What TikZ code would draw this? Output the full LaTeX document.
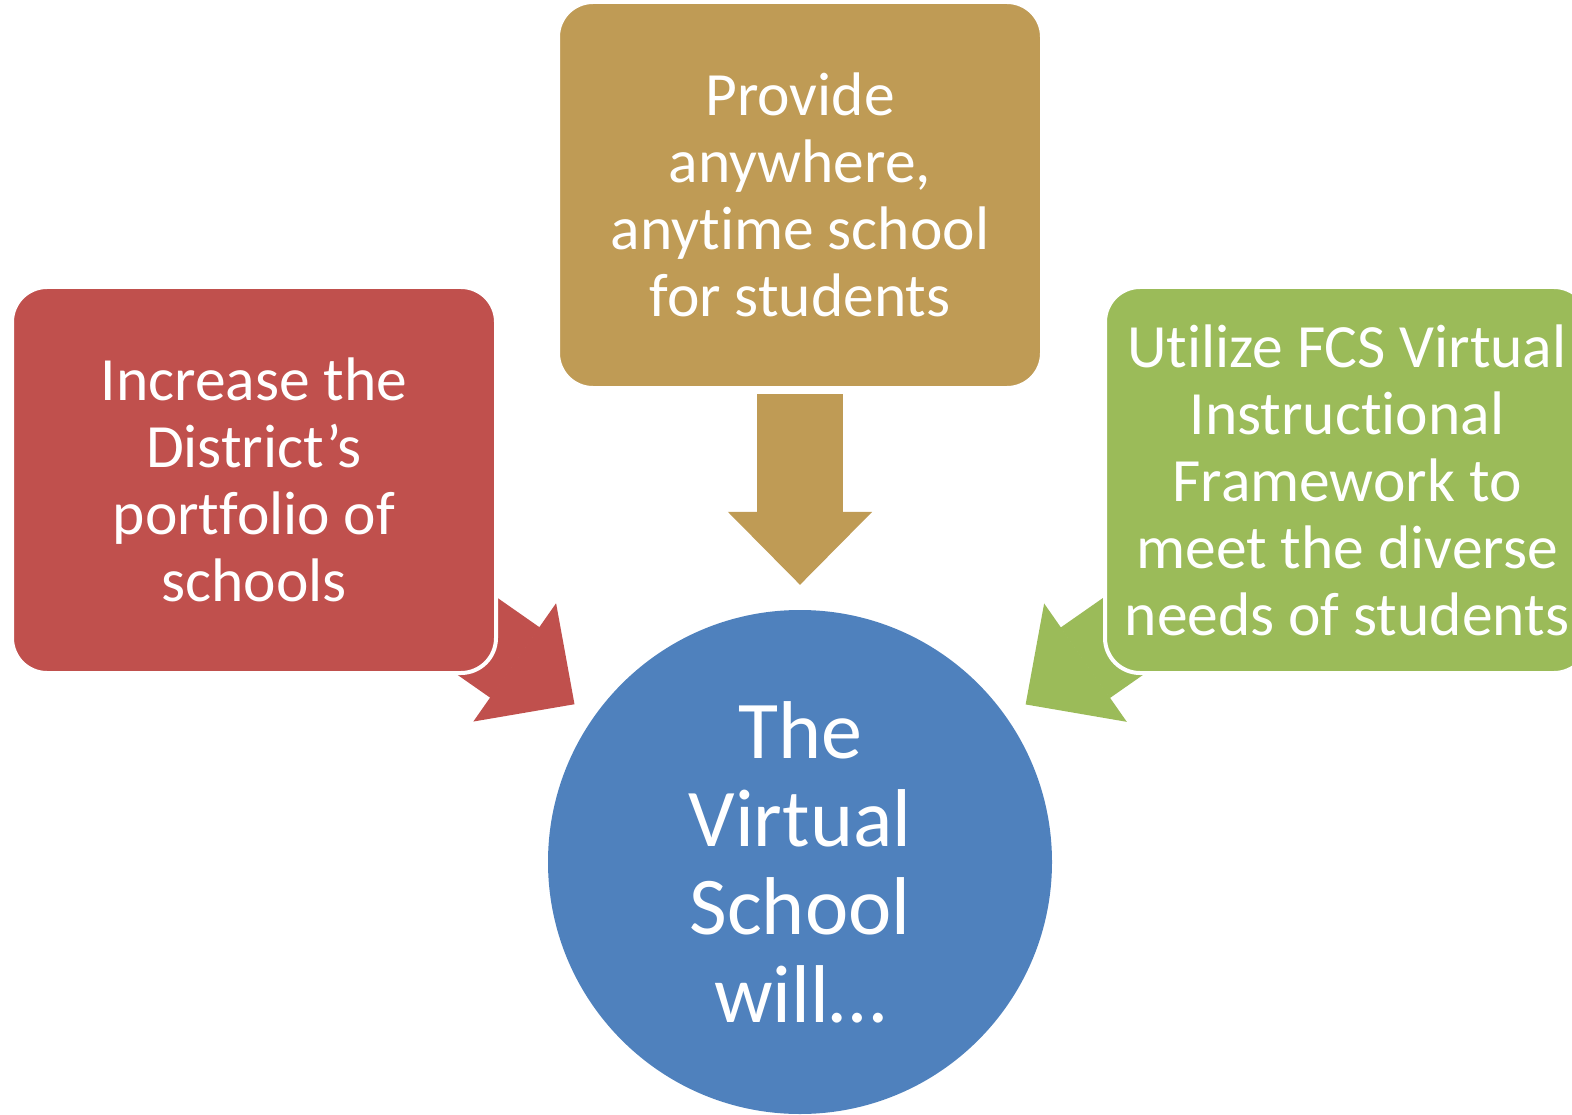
\documentclass[tikz,border=0pt]{standalone}
\usepackage{fontspec}
\setmainfont{Carlito}[Ligatures={NoCommon}]
\usetikzlibrary{arrows.meta}
\usetikzlibrary{backgrounds}
\definecolor{tanC}{HTML}{BF9B55}
\definecolor{redC}{HTML}{C0504D}
\definecolor{grnC}{HTML}{9BBB59}
\definecolor{bluC}{HTML}{4F81BD}
\tikzstyle{gbox}=[draw=white, line width=4pt, shape=rectangle, rounded corners=35pt, minimum width=484pt, minimum height=386pt, inner sep=0pt, align=center, text=white, font=\fontsize{61.5}{67}\selectfont]
\tikzstyle{vcirc}=[shape=circle, fill=bluC, minimum size=504pt, inner sep=0pt, align=center, text=white, font=\fontsize{82}{88}\selectfont]
\tikzstyle{barrow}=[line width=86pt, -{Triangle[length=73pt 0 0, width=144pt 0 0, line width=2pt 0 0]}]
\def\gbox{\node[style=gbox]}
\def\vcirc{\node[style=vcirc]}
\def\barrow{\draw[style=barrow]}

\begin{document}
\begin{tikzpicture}[x=1pt, y=-1pt]
      \useasboundingbox (0,0) rectangle (1572,1115);
      % goals
      \gbox (Tbox) [fill=tanC] at (800,195)  {Provide\\anywhere,\\anytime school\\for students};
      \gbox (Lbox) [fill=redC] at (254,480)  {Increase the\\District’s\\portfolio of\\schools};
      \gbox (Rbox) [fill=grnC] at (1347,480) {Utilize FCS Virtual\\Instructional\\Framework to\\meet the diverse\\needs of students};
      % centre
      \vcirc (Vnode) at (800,862) {The\\Virtual\\School\\will…};
      % arrows
      \begin{scope}[on background layer]
      \barrow[tanC, shorten <=4pt, shorten >=25pt] (Tbox) -- (Vnode);
      \barrow[redC, shorten >=23pt] (Lbox.center) -- (Vnode);
      \barrow[grnC, shorten >=23pt] (Rbox.center) -- (Vnode);
      \end{scope}
\end{tikzpicture}
\end{document}
